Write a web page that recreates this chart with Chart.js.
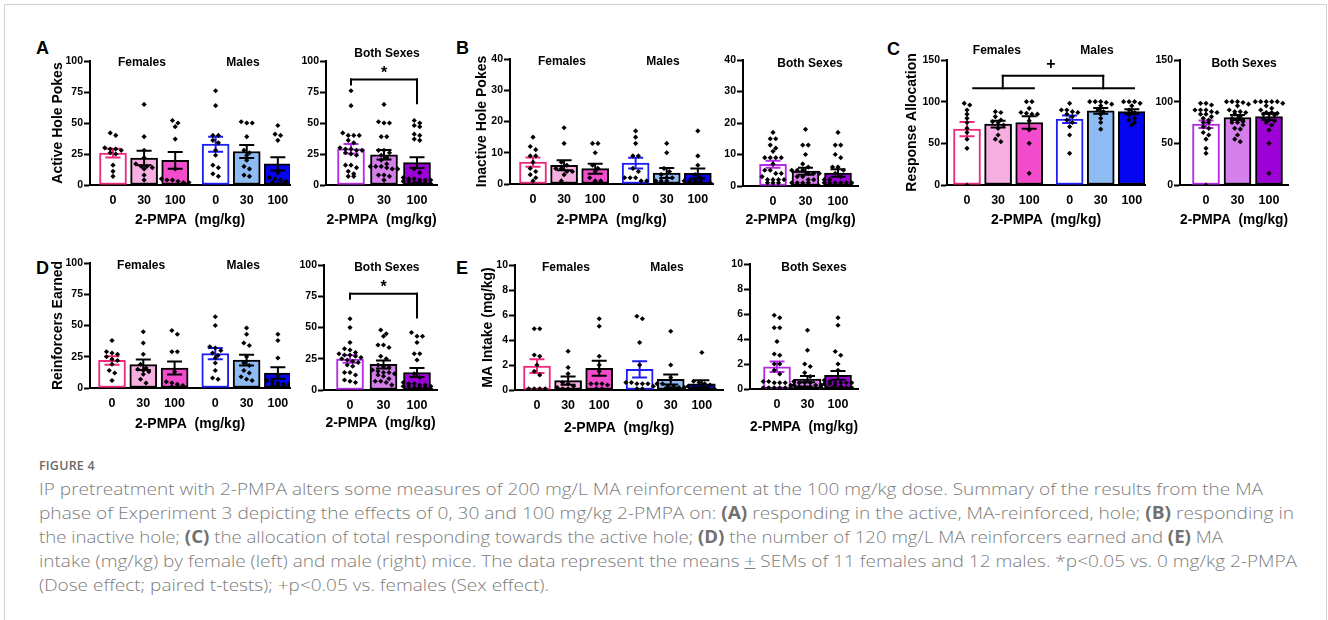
<!DOCTYPE html>
<html>
<head>
<meta charset="utf-8">
<script src="https://cdn.jsdelivr.net/npm/chart.js@4.4.0/dist/chart.umd.min.js"></script>
<style>
  body { margin: 0; background: #fff; }
  #fig { position: relative; width: 1328px; height: 620px; overflow: hidden; background: #fff; }
  #frame { position: absolute; left: 4px; top: 4px; width: 1321px; height: 700px; border: 1px solid #d2d2d2; }
  canvas { position: absolute; }
  .lett { position: absolute; font: bold 18px "Liberation Sans", Arial, sans-serif; color: #000; line-height: 18px; }
  #figno { position: absolute; left: 39px; top: 457px; font: 600 12.5px "Open Sans", sans-serif; color: #6a6a6a; letter-spacing: 0.2px; }
  #cap { position: absolute; left: 39px; top: 477px; font: 300 17px "Open Sans", sans-serif; color: #7c7c7c; line-height: 24px; white-space: nowrap; }
  #cap span { display: inline-block; transform-origin: 0 0; }
  #cap b { font-weight: 700; color: #707070; }
</style>
</head>
<body>
<div id="fig">
  <div id="frame"></div>
  <div class="lett" style="left:36px;top:39px">A</div>
  <div class="lett" style="left:456px;top:39px">B</div>
  <div class="lett" style="left:887px;top:40px">C</div>
  <div class="lett" style="left:36px;top:259px">D</div>
  <div class="lett" style="left:456px;top:259px">E</div>
  <div id="figno">FIGURE 4</div>
  <div id="cap">
    <span data-w="1224">IP pretreatment with 2-PMPA alters some measures of 200 mg/L MA reinforcement at the 100 mg/kg dose. Summary of the results from the MA</span><br>
    <span data-w="1255">phase of Experiment 3 depicting the effects of 0, 30 and 100 mg/kg 2-PMPA on: <b>(A)</b> responding in the active, MA-reinforced, hole; <b>(B)</b> responding in</span><br>
    <span data-w="1184">the inactive hole; <b>(C)</b> the allocation of total responding towards the active hole; <b>(D)</b> the number of 120 mg/L MA reinforcers earned and <b>(E)</b> MA</span><br>
    <span data-w="1258">intake (mg/kg) by female (left) and male (right) mice. The data represent the means <u>+</u> SEMs of 11 females and 12 males. *p&lt;0.05 vs. 0 mg/kg 2-PMPA</span><br>
    <span data-w="510">(Dose effect; paired t-tests); +p&lt;0.05 vs. females (Sex effect).</span>
  </div>
</div>
<script>
const doseLabels = ['0', '30', '100'];

// A - active hole pokes (individual mice, per dose 0/30/100)
const activeF = [
  [42, 40, 30, 29, 29, 28, 26, 25, 16, 11, 7],
  [65, 39, 28, 22, 17, 15, 15, 14, 13, 8, 4],
  [52, 50, 47, 37, 13, 5, 4, 4, 3, 2, 2]
];
const activeM = [
  [76, 64, 40, 40, 36, 34, 28, 24, 16, 14, 9, 7],
  [51, 50, 50, 39, 28, 26, 24, 20, 15, 13, 8, 7],
  [48, 41, 40, 36, 10, 6, 5, 4, 3, 2, 1, 1]
];
const activeMean = [25.7, 21.8, 19.9, 32.9, 27, 17];
const activeSem = [3.6, 5.8, 6.8, 6, 5.2, 5.4];
const activeBothMean = [29.2, 24.4, 18];
const activeBothSem = [3.8, 3.8, 4.3];

// B - inactive hole pokes
const inactiveF = [
  [15, 12, 11, 9, 9, 7, 5, 4, 3, 2, 1],
  [18, 13, 7, 6, 5, 5, 4, 4, 3, 1, 0],
  [13, 13, 10, 6, 5, 4, 2, 1, 1, 0, 0]
];
const inactiveM = [
  [17, 15, 13, 9, 9, 5, 4, 2, 2, 2, 1, 1],
  [13, 10, 5, 4, 3, 2, 2, 1, 1, 1, 0, 0],
  [17, 9, 6, 3, 2, 1, 1, 1, 1, 0, 0, 0]
];
const inactiveMean = [7, 6, 4.9, 6.7, 3.5, 3.4];
const inactiveSem = [1.5, 1.6, 1.6, 1.7, 1.6, 1.6];
const inactiveBothMean = [6.9, 4.7, 4.1];
const inactiveBothSem = [1.1, 1.1, 1.2];

// C - response allocation (%)
const allocF = [
  [98, 96, 90, 85, 80, 75, 68, 63, 55, 44, 0],
  [88, 87, 82, 78, 76, 75, 72, 68, 60, 55, 52],
  [100, 100, 92, 87, 86, 85, 85, 77, 66, 50, 14]
];
const allocM = [
  [98, 90, 90, 88, 87, 85, 82, 78, 75, 70, 60, 38],
  [100, 100, 100, 99, 97, 95, 90, 88, 85, 80, 75, 67],
  [100, 100, 100, 98, 95, 90, 87, 84, 80, 78, 75, 72]
];
const allocMean = [67, 73, 75, 79, 89, 88];
const allocSem = [8.5, 4, 7.5, 4.5, 3.5, 3];
const allocBothMean = [73, 81, 82];
const allocBothSem = [4.5, 3, 4];

// D - reinforcers earned
const reinfF = [
  [38, 29, 28, 27, 25, 23, 22, 19, 14, 12, 6],
  [45, 36, 27, 19, 16, 15, 14, 13, 11, 7, 4],
  [46, 43, 29, 29, 13, 5, 4, 3, 2, 1, 1]
];
const reinfM = [
  [57, 50, 33, 32, 30, 28, 26, 24, 20, 14, 8, 7],
  [48, 43, 36, 34, 25, 20, 18, 14, 12, 9, 7, 6],
  [43, 38, 24, 10, 6, 5, 4, 3, 3, 2, 2, 1]
];
const reinfMean = [22.1, 18.7, 16, 27.5, 22.3, 12];
const reinfSem = [3.4, 4.2, 5.2, 4.5, 4.3, 4.6];
const reinfBothMean = [24.8, 20.5, 14];
const reinfBothSem = [3, 3.2, 3.6];

// E - MA intake (mg/kg)
const intakeF = [
  [4.9, 4.9, 2.8, 2.7, 2.0, 1.5, 1.2, 0.1, 0.1, 0.1, 0.1],
  [3.1, 1.8, 1.3, 0.6, 0.5, 0.3, 0.2, 0.1, 0.1, 0, 0],
  [5.7, 5.1, 2.7, 2.0, 1.5, 0.5, 0.5, 0.5, 0.4, 0.1, 0.1]
];
const intakeM = [
  [5.9, 5.7, 3.8, 2.0, 0.6, 0.6, 0.5, 0.5, 0.5, 0.3, 0.1, 0.1],
  [4.7, 2.0, 1.0, 0.5, 0.5, 0.3, 0.3, 0.2, 0.2, 0.1, 0.1, 0.1],
  [3.0, 0.7, 0.6, 0.5, 0.4, 0.3, 0.2, 0.1, 0.1, 0, 0, 0]
];
const intakeMean = [1.92, 0.75, 1.74, 1.65, 0.85, 0.5];
const intakeSem = [0.55, 0.33, 0.6, 0.65, 0.4, 0.28];
const intakeBothMean = [1.78, 0.8, 1.1];
const intakeBothSem = [0.42, 0.25, 0.35];

// colours
const sexFill = ['#ffffff', '#f6afe1', '#f24ccd', '#ffffff', '#8fbbf3', '#0505f2'];
const sexBorder = ['#ef2a7c', '#000', '#000', '#1d1df5', '#000', '#000'];
const bothFill = ['#ffffff', '#d47fea', '#9c02d6'];
const bothBorder = ['#b52ae6', '#000', '#000'];

const sexPos = [0, 1, 2, 3.3, 4.3, 5.3];
const bothPos = [0, 1, 2];
const FONT = "'Liberation Sans', Arial, sans-serif";
Chart.defaults.font.family = FONT;
Chart.defaults.color = '#000';

// spread points with similar values side by side (prism style)
function swarm(vals, pxY, pxX) {
  const idx = vals.map((v, i) => i).sort((a, b) => vals[b] - vals[a]);
  const out = [];
  let row = [];
  const flush = () => {
    row.forEach((i, k) => { out[i] = (k - (row.length - 1) / 2) * 5.5 / pxX; });
    row = [];
  };
  idx.forEach(i => {
    if (row.length && ((vals[row[0]] - vals[i]) * pxY > 4 || row.length >= 6)) flush();
    row.push(i);
  });
  flush();
  return out;
}

const errorBars = {
  id: 'errorBars',
  afterDatasetDraw(chart, args, o) {
    if (args.index !== 0) return;
    const {ctx, scales: {x, y}} = chart;
    ctx.save();
    ctx.lineWidth = 2;
    o.mean.forEach((m, i) => {
      const cx = x.getPixelForValue(o.pos[i]);
      const top = y.getPixelForValue(m + o.sem[i]);
      const bot = y.getPixelForValue(m - o.sem[i]);
      ctx.strokeStyle = o.color[i];
      ctx.beginPath();
      ctx.moveTo(cx, bot); ctx.lineTo(cx, top);
      ctx.moveTo(cx - 7.5, top); ctx.lineTo(cx + 7.5, top);
      ctx.moveTo(cx - 7.5, bot); ctx.lineTo(cx + 7.5, bot);
      ctx.stroke();
    });
    ctx.restore();
  }
};

const extras = {
  id: 'extras',
  afterDraw(chart, args, o) {
    const {ctx, chartArea, scales: {x, y}} = chart;
    ctx.save();
    ctx.fillStyle = '#000';
    ctx.textAlign = 'center';
    ctx.textBaseline = 'middle';
    ctx.font = 'bold 12px ' + FONT;
    (o.titles || []).forEach(t => ctx.fillText(t.text, x.getPixelForValue(t.x), chartArea.top + t.dy));
    ctx.strokeStyle = '#000';
    ctx.lineWidth = 2;
    ctx.lineCap = 'square';
    (o.lines || []).forEach(s => {
      ctx.beginPath();
      ctx.moveTo(x.getPixelForValue(s[0]), y.getPixelForValue(s[1]));
      ctx.lineTo(x.getPixelForValue(s[2]), y.getPixelForValue(s[3]));
      ctx.stroke();
    });
    ctx.font = 'bold 16px ' + FONT;
    (o.marks || []).forEach(t => ctx.fillText(t.text, x.getPixelForValue(t.x), y.getPixelForValue(t.y)));
    ctx.restore();
  }
};
Chart.register(errorBars, extras);

function panel(p) {
  const left = p.yTitleX ? p.yTitleX - 12 : p.axis - 45;
  const top = p.top - 42;
  const bottom = p.xTitleY + 10;
  const width = p.right + 8 - left;
  const height = bottom - top;
  const cv = document.createElement('canvas');
  cv.width = width; cv.height = height;
  cv.style.left = left + 'px'; cv.style.top = top + 'px';
  document.getElementById('fig').appendChild(cv);

  const pxY = (p.bottom - p.top) / p.yMax;
  const xMin = -(p.first - p.axis) / p.step;
  const xMax = (p.right - p.first) / p.step;
  const pts = [];
  p.groups.forEach((g, i) => {
    const off = swarm(g, pxY, p.step);
    g.forEach((v, k) => pts.push({x: p.pos[i] + off[k], y: v}));
  });

  new Chart(cv, {
    type: 'bar',
    data: {
      datasets: [
        {
          type: 'bar',
          data: p.pos.map((x, i) => ({x: x, y: p.mean[i]})),
          backgroundColor: p.fill,
          borderColor: p.border,
          borderWidth: 2,
          borderSkipped: false,
          barThickness: 27,
          order: 2
        },
        {
          type: 'scatter',
          data: pts,
          pointStyle: 'rectRot',
          pointRadius: 2.6,
          backgroundColor: '#000',
          borderWidth: 0,
          order: 1
        }
      ]
    },
    options: {
      responsive: false,
      animation: false,
      devicePixelRatio: 1,
      layout: { padding: { top: 42, right: 8, left: 0, bottom: 0 } },
      scales: {
        x: {
          type: 'linear',
          offset: false,
          min: xMin,
          max: xMax,
          afterBuildTicks: s => { s.ticks = p.pos.map(v => ({value: v})); },
          afterFit: s => { s.height = bottom - p.bottom; },
          ticks: {
            font: { size: 12.5, weight: 'bold' },
            padding: 8,
            maxRotation: 0,
            autoSkip: false,
            callback: (v, i) => doseLabels[i % 3]
          },
          grid: { drawOnChartArea: false, drawTicks: false },
          border: { color: '#000', width: 2 },
          title: {
            display: true,
            text: '2-PMPA  (mg/kg)',
            font: { size: 14, weight: 'bold' },
            padding: { top: 0, bottom: 1.6 }
          }
        },
        y: {
          min: 0,
          max: p.yMax,
          afterFit: s => { s.width = p.axis - left; },
          ticks: { stepSize: p.yStep, font: { size: 10.5, weight: 'bold' }, padding: 1 },
          grid: { drawOnChartArea: false, tickLength: 6, tickWidth: 2, tickColor: '#000' },
          border: { color: '#000', width: 2 },
          title: {
            display: !!p.yTitle,
            text: p.yTitle || '',
            font: { size: 14, weight: 'bold' },
            padding: { top: 3.6, bottom: 0 }
          }
        }
      },
      plugins: {
        legend: { display: false },
        tooltip: { enabled: false },
        errorBars: { pos: p.pos, mean: p.mean, sem: p.sem, color: p.border },
        extras: { titles: p.titles, lines: p.lines || [], marks: p.marks || [] }
      }
    }
  });
}

function sexGroups(f, m) { return f.concat(m); }
function bothGroups(f, m) { return f.map((g, i) => g.concat(m[i])); }
const sexTitles = [{text: 'Females', x: 0.93, dy: 2}, {text: 'Males', x: 4.18, dy: 2}];

// A
panel({ axis: 90, top: 61, bottom: 185, right: 290, first: 113, step: 31.1, yMax: 100, yStep: 25,
  yTitle: 'Active Hole Pokes', yTitleX: 58, xTitleY: 220, pos: sexPos,
  mean: activeMean, sem: activeSem, groups: sexGroups(activeF, activeM),
  fill: sexFill, border: sexBorder, titles: sexTitles });
panel({ axis: 326, top: 61, bottom: 185, right: 437, first: 351, step: 33, yMax: 100, yStep: 25,
  xTitleY: 220, pos: bothPos,
  mean: activeBothMean, sem: activeBothSem, groups: bothGroups(activeF, activeM),
  fill: bothFill, border: bothBorder, titles: [{text: 'Both Sexes', x: 1.09, dy: -7}],
  lines: [[0, 81, 0, 85], [0, 85, 2, 85], [2, 85, 2, 66]], marks: [{text: '*', x: 1, y: 90}] });

// B
panel({ axis: 510, top: 59, bottom: 184, right: 713, first: 533, step: 31.1, yMax: 40, yStep: 10,
  yTitle: 'Inactive Hole Pokes', yTitleX: 482, xTitleY: 220, pos: sexPos,
  mean: inactiveMean, sem: inactiveSem, groups: sexGroups(inactiveF, inactiveM),
  fill: sexFill, border: sexBorder, titles: [{text: 'Females', x: 0.93, dy: 3}, {text: 'Males', x: 4.18, dy: 3}] });
panel({ axis: 743, top: 60, bottom: 186, right: 858, first: 773, step: 32.5, yMax: 40, yStep: 10,
  xTitleY: 220, pos: bothPos,
  mean: inactiveBothMean, sem: inactiveBothSem, groups: bothGroups(inactiveF, inactiveM),
  fill: bothFill, border: bothBorder, titles: [{text: 'Both Sexes', x: 1.14, dy: 4}] });

// C
panel({ axis: 947, top: 60, bottom: 185, right: 1145, first: 967, step: 31.1, yMax: 150, yStep: 50,
  yTitle: 'Response Allocation', yTitleX: 912, xTitleY: 220, pos: sexPos,
  mean: allocMean, sem: allocSem, groups: sexGroups(allocF, allocM),
  fill: sexFill, border: sexBorder,
  titles: [{text: 'Females', x: 0.96, dy: -9}, {text: 'Males', x: 4.18, dy: -9}],
  lines: [[0.2, 116, 2.15, 116], [1.15, 116, 1.15, 131], [1.15, 131, 4.38, 131], [4.38, 131, 4.38, 116], [3.41, 116, 5.37, 116]],
  marks: [{text: '+', x: 2.7, y: 144}] });
panel({ axis: 1180, top: 60, bottom: 185, right: 1288, first: 1206, step: 31.5, yMax: 150, yStep: 50,
  xTitleY: 220, pos: bothPos,
  mean: allocBothMean, sem: allocBothSem, groups: bothGroups(allocF, allocM),
  fill: bothFill, border: bothBorder, titles: [{text: 'Both Sexes', x: 1.21, dy: 4}] });

// D
panel({ axis: 90, top: 263, bottom: 388, right: 290, first: 112, step: 31.3, yMax: 100, yStep: 25,
  yTitle: 'Reinforcers Earned', yTitleX: 58, xTitleY: 424, pos: sexPos,
  mean: reinfMean, sem: reinfSem, groups: sexGroups(reinfF, reinfM),
  fill: sexFill, border: sexBorder, titles: [{text: 'Females', x: 0.93, dy: 3}, {text: 'Males', x: 4.19, dy: 3}] });
panel({ axis: 324, top: 265, bottom: 390, right: 437, first: 350, step: 33.5, yMax: 100, yStep: 25,
  xTitleY: 423, pos: bothPos,
  mean: reinfBothMean, sem: reinfBothSem, groups: bothGroups(reinfF, reinfM),
  fill: bothFill, border: bothBorder, titles: [{text: 'Both Sexes', x: 1.1, dy: 3}],
  lines: [[0, 73, 0, 77], [0, 77, 2, 77], [2, 77, 2, 58]], marks: [{text: '*', x: 1, y: 82}] });

// E
panel({ axis: 515, top: 265, bottom: 390, right: 723, first: 537, step: 31.1, yMax: 10, yStep: 2,
  yTitle: 'MA Intake (mg/kg)', yTitleX: 488, xTitleY: 428, pos: sexPos,
  mean: intakeMean, sem: intakeSem, groups: sexGroups(intakeF, intakeM),
  fill: sexFill, border: sexBorder, titles: [{text: 'Females', x: 0.93, dy: 3}, {text: 'Males', x: 4.18, dy: 3}] });
panel({ axis: 750, top: 264, bottom: 389, right: 858, first: 777, step: 30.5, yMax: 10, yStep: 2,
  xTitleY: 427, pos: bothPos,
  mean: intakeBothMean, sem: intakeBothSem, groups: bothGroups(intakeF, intakeM),
  fill: bothFill, border: bothBorder, titles: [{text: 'Both Sexes', x: 1.21, dy: 4}] });

// fit caption lines to the widths of the original wrap
document.querySelectorAll('#cap span').forEach(s => {
  const w = s.getBoundingClientRect().width;
  s.style.transform = 'scaleX(' + (+s.dataset.w / w) + ')';
});
</script>
</body>
</html>
